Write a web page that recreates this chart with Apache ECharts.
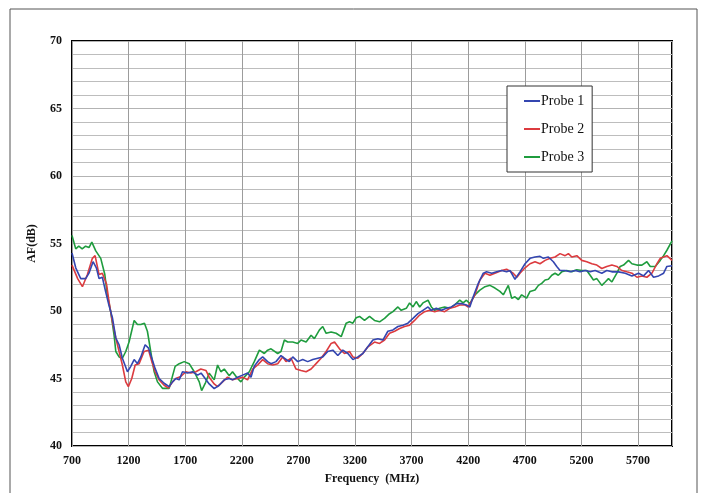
<!DOCTYPE html>
<html>
<head>
<meta charset="utf-8">
<script src="https://cdn.jsdelivr.net/npm/echarts@6/dist/echarts.min.js"></script>
<style>html,body{margin:0;padding:0;background:#fff}#c{width:704px;height:493px}</style>
</head>
<body>
<div id="c"></div>
<script>
// ---- data ----
const seriesNames = ['Probe 1', 'Probe 2', 'Probe 3'];
const xTickStart = 700; // first frequency tick (MHz)

const probe1Freq = [700,733,777,821,850,886,915,939,968,998,1027,1057,1087,1116,1145,1190,1219,1249,1278,1308,1346,1376,1405,1434,1470,1514,1558,1588,1617,1647,1676,1720,1765,1810,1840,1868,1912,1956,2000,2045,2089,2118,2163,2207,2251,2281,2310,2355,2384,2428,2458,2502,2546,2576,2620,2650,2694,2738,2782,2827,2871,2915,2959,3004,3048,3092,3137,3181,3225,3269,3313,3358,3402,3446,3490,3535,3579,3623,3667,3712,3756,3800,3845,3874,3918,3963,4007,4051,4096,4140,4184,4214,4244,4289,4333,4362,4407,4451,4495,4539,4569,4613,4657,4702,4746,4790,4834,4864,4908,4952,4982,5011,5056,5100,5144,5188,5233,5277,5321,5380,5424,5469,5528,5587,5646,5705,5749,5793,5837,5882,5926,5955,6000];
const probe1AF = [54.3,53.2,52.4,52.4,52.8,53.65,53.2,52.4,52.5,51.4,50.4,49.5,48.0,47.5,46.5,45.5,45.9,46.4,46.1,46.6,47.5,47.25,46.5,45.75,45.0,44.65,44.4,44.75,45.0,44.9,45.5,45.4,45.5,45.25,45.4,45.1,44.6,44.25,44.5,44.9,45.0,44.9,45.1,45.25,45.4,45.1,45.9,46.4,46.6,46.25,46.1,46.25,46.7,46.5,46.25,46.6,46.25,46.4,46.25,46.4,46.5,46.6,47.0,47.1,46.7,47.1,46.85,46.4,46.6,46.85,47.35,47.85,47.95,47.85,48.5,48.6,48.85,48.95,49.1,49.45,49.8,50.05,50.3,50.05,50.2,50.05,50.2,50.3,50.55,50.55,50.45,50.3,51.05,52.05,52.8,52.9,52.8,52.9,53.0,52.9,53.0,52.35,52.9,53.5,53.9,54.0,54.05,53.9,54.0,53.65,53.3,53.0,53.0,52.9,53.0,52.9,53.0,52.9,53.0,52.8,53.0,52.9,52.9,52.8,52.6,52.8,52.6,53.0,52.5,52.6,52.8,53.3,53.35];

const probe2Freq = [700,750,792,836,880,904,939,968,1005,1027,1057,1087,1116,1145,1175,1198,1228,1258,1293,1337,1376,1405,1434,1470,1514,1552,1588,1617,1661,1706,1750,1794,1838,1883,1912,1956,1986,2030,2074,2118,2163,2207,2251,2296,2340,2384,2428,2473,2517,2561,2590,2635,2679,2723,2768,2812,2856,2900,2945,2989,3019,3063,3107,3151,3181,3225,3269,3314,3372,3417,3461,3505,3550,3594,3638,3682,3726,3771,3815,3859,3904,3948,3992,4037,4081,4125,4170,4200,4259,4303,4348,4392,4436,4495,4539,4597,4630,4657,4702,4746,4790,4834,4879,4923,4967,5011,5056,5085,5115,5159,5203,5247,5292,5336,5380,5424,5469,5513,5557,5601,5646,5690,5734,5778,5823,5867,5896,5926,5955,6000];
const probe2AF = [53.4,52.4,51.8,52.7,53.9,54.1,52.7,52.8,52.0,50.7,49.2,48.0,47.0,46.0,44.75,44.4,45.0,46.0,46.1,47.0,47.1,46.25,45.5,44.9,44.5,44.3,44.75,45.0,45.15,45.5,45.4,45.5,45.7,45.6,45.1,44.6,44.4,44.75,45.1,44.9,45.0,45.1,44.9,45.7,46.0,46.4,46.1,46.0,46.1,46.6,46.25,46.5,45.7,45.6,45.5,45.7,46.1,46.5,47.0,47.6,47.7,47.2,46.85,47.0,46.6,46.5,46.85,47.35,47.7,47.6,47.85,48.35,48.5,48.7,48.85,48.95,49.3,49.7,49.95,50.05,49.95,50.05,49.95,50.2,50.3,50.45,50.45,50.3,51.2,52.3,52.8,52.65,52.8,53.0,53.1,52.8,52.5,52.8,53.2,53.5,53.65,53.5,53.75,53.9,54.0,54.25,54.1,54.25,54.0,54.1,53.75,53.65,53.5,53.4,53.15,53.3,53.4,53.3,53.0,52.9,52.8,52.5,52.6,52.5,52.8,53.5,53.9,54.0,54.1,53.75];

const probe3Freq = [700,733,760,790,820,850,875,910,954,990,1012,1042,1072,1087,1116,1145,1175,1204,1249,1278,1308,1340,1366,1376,1405,1426,1455,1499,1558,1611,1647,1691,1735,1780,1824,1845,1880,1912,1956,1986,2015,2045,2089,2118,2163,2192,2222,2266,2310,2355,2399,2428,2458,2517,2546,2576,2605,2650,2694,2723,2768,2812,2841,2886,2915,2945,2989,3033,3078,3122,3151,3181,3210,3240,3284,3328,3372,3417,3461,3505,3535,3579,3608,3653,3682,3712,3741,3771,3800,3845,3874,3904,3948,3992,4037,4081,4125,4155,4184,4214,4259,4303,4348,4392,4436,4480,4510,4554,4584,4613,4643,4672,4716,4746,4790,4820,4849,4879,4908,4938,4967,4996,5026,5070,5115,5159,5203,5247,5277,5306,5336,5380,5410,5439,5469,5513,5542,5572,5616,5646,5690,5734,5778,5808,5852,5896,5926,5955,6000];
const probe3AF = [55.6,54.6,54.8,54.6,54.8,54.7,55.1,54.45,53.9,52.7,51.2,49.95,48.2,47.0,46.6,46.5,47.0,47.7,49.3,49.0,49.0,49.1,48.5,48.0,46.5,45.5,44.75,44.27,44.27,45.9,46.1,46.25,46.1,45.5,44.75,44.1,44.7,45.4,44.9,46.0,45.5,45.7,45.2,45.5,45.0,44.75,45.1,45.5,46.25,47.1,46.85,47.1,47.2,46.85,47.0,47.85,47.7,47.7,47.6,47.85,47.7,48.2,47.95,48.6,48.85,48.35,48.45,48.35,48.1,49.1,49.2,49.1,49.5,49.6,49.3,49.6,49.3,49.2,49.45,49.8,49.95,50.3,50.05,50.2,50.6,50.3,50.7,50.3,50.6,50.8,50.3,50.05,50.2,50.3,50.2,50.45,50.8,50.6,50.8,50.55,51.2,51.55,51.8,51.9,51.7,51.45,51.2,51.9,50.95,51.05,50.85,51.2,50.95,51.45,51.55,51.9,52.05,52.3,52.35,52.65,52.8,52.65,52.9,53.0,52.9,53.05,53.0,53.0,52.65,52.3,52.4,51.9,52.15,52.4,52.15,52.8,53.3,53.4,53.75,53.5,53.4,53.4,53.65,53.3,53.3,53.75,54.1,54.5,55.2];

// ---- chart ----
const serif = '"Liberation Serif", "DejaVu Serif", serif';
function pairs(fs, vs) { return fs.map((f, i) => [f - xTickStart, vs[i]]); }
const colors = ['#3446b0', '#dc3b3f', '#1f9c3e'];
const freqs = [probe1Freq, probe2Freq, probe3Freq];
const afs = [probe1AF, probe2AF, probe3AF];

const chart = echarts.init(document.getElementById('c'), null, { renderer: 'canvas' });
chart.setOption({
  animation: false,
  backgroundColor: '#fff',
  graphic: [{
    type: 'rect', z: -10,
    shape: { x: 10, y: 9, width: 687, height: 495 },
    style: { fill: null, stroke: '#555', lineWidth: 1 }
  }],
  grid: { left: 72, right: 32, top: 41, bottom: 47, show: true, borderColor: '#000', borderWidth: 2, backgroundColor: 'transparent' },
  legend: {
    data: seriesNames.map(n => ({ name: n, icon: 'rect' })),
    orient: 'vertical', left: 507, top: 86,
    padding: [8, 8, 8, 17], itemGap: 14, itemWidth: 16, itemHeight: 2,
    borderColor: '#333', borderWidth: 1, backgroundColor: '#fff',
    textStyle: { fontFamily: serif, fontSize: 14, color: '#111', padding: [0, 0, 0, -4], lineHeight: 14 }
  },
  xAxis: {
    type: 'value', min: 0, max: 6000 - xTickStart, interval: 500,
    name: 'Frequency  (MHz)', nameLocation: 'middle', nameGap: 27,
    nameTextStyle: { fontFamily: serif, fontWeight: 'bold', fontSize: 12, color: '#111' },
    axisLine: { show: false }, axisTick: { show: false },
    axisLabel: { showMaxLabel: false, formatter: v => String(v + xTickStart), fontFamily: serif, fontWeight: 'bold', fontSize: 12, color: '#111', margin: 9 },
    splitLine: { show: true, lineStyle: { color: '#9c9c9c', width: 1 } }
  },
  yAxis: {
    type: 'value', min: 40, max: 70, interval: 5,
    name: 'AF(dB)', nameLocation: 'middle', nameGap: 34,
    nameTextStyle: { fontFamily: serif, fontWeight: 'bold', fontSize: 12, color: '#111' },
    axisLine: { show: false }, axisTick: { show: false },
    axisLabel: { fontFamily: serif, fontWeight: 'bold', fontSize: 12, color: '#111', margin: 10 },
    splitLine: { show: true, lineStyle: { color: '#b3b3b3', width: 1 } },
    minorTick: { show: false, splitNumber: 5 },
    minorSplitLine: { show: true, lineStyle: { color: '#bdbdbd', width: 1 } }
  },
  series: seriesNames.map((n, i) => ({
    name: n, type: 'line', symbol: 'none', smooth: false,
    data: pairs(freqs[i], afs[i]),
    lineStyle: { color: colors[i], width: 1.6 },
    itemStyle: { color: colors[i] },
    z: 3 - i
  }))
});
</script>
</body>
</html>
